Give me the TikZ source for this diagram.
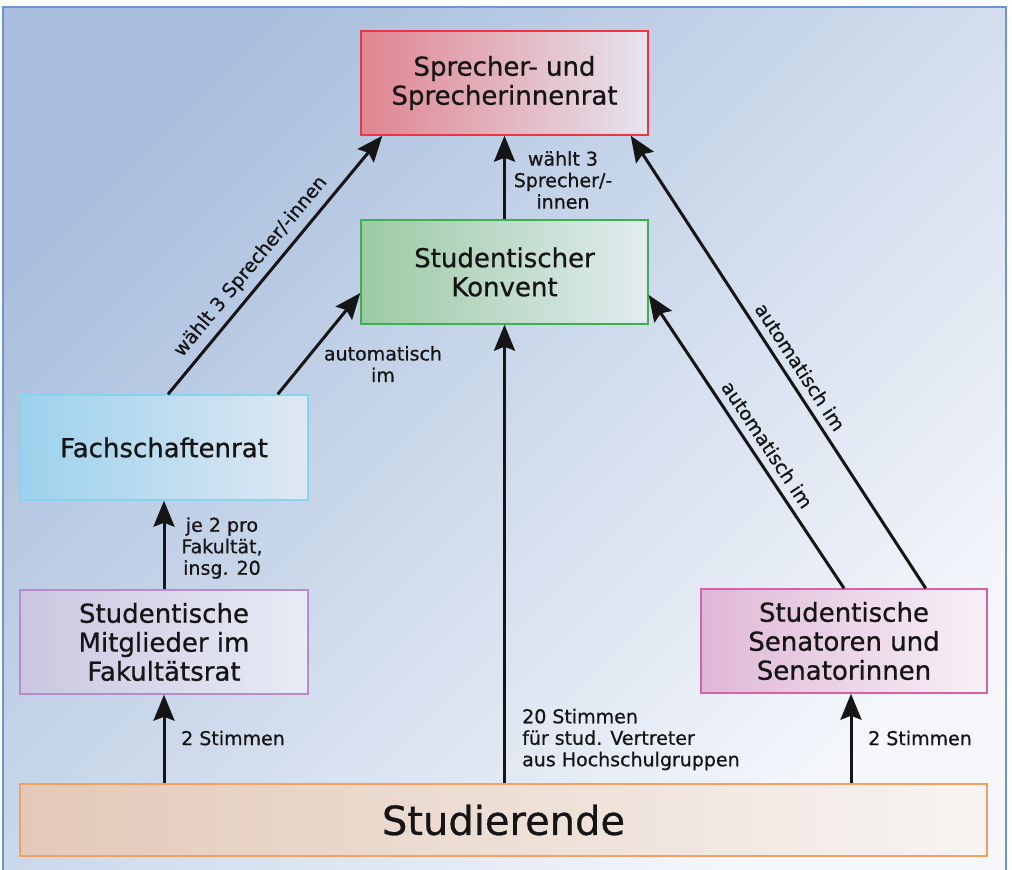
\documentclass[tikz,border=0pt]{standalone}
\usepackage{fontspec}
\setmainfont{DejaVu Sans}[FakeBold=0.7]
\usetikzlibrary{arrows.meta,calc}
\definecolor{bgA}{HTML}{A9BFDD}
\definecolor{bgB}{HTML}{F5F7FB}
\definecolor{bgline}{HTML}{6E92D2}
\definecolor{ink}{HTML}{151515}
\definecolor{sprD}{HTML}{EE3344}\definecolor{sprL}{HTML}{DF8590}\definecolor{sprR}{HTML}{E6E4EE}
\definecolor{konD}{HTML}{3CB04C}\definecolor{konL}{HTML}{9CCAA4}\definecolor{konR}{HTML}{E2ECF0}
\definecolor{fsrD}{HTML}{88D4F0}\definecolor{fsrL}{HTML}{9CD2EC}\definecolor{fsrR}{HTML}{DFE8F3}
\definecolor{mitD}{HTML}{B88AC8}\definecolor{mitL}{HTML}{CBC6E0}\definecolor{mitR}{HTML}{E8ECF6}
\definecolor{senD}{HTML}{D860A8}\definecolor{senL}{HTML}{DFB7D6}\definecolor{senR}{HTML}{F7F1F7}
\definecolor{stuD}{HTML}{F4A060}\definecolor{stuL}{HTML}{E3C9B8}\definecolor{stuR}{HTML}{F7F4F2}
\begin{document}
\begin{tikzpicture}[x=1pt,y=-1pt,
  box/.style n args={3}{draw=#1, left color=#2, right color=#3, line width=1.4pt,
    align=center, inner sep=0pt, text=ink, font=\fontsize{26}{29}\selectfont},
  arr/.style={draw=ink, line width=3pt, -{Stealth[length=26pt,width=21pt,inset=4pt]}},
  lab/.style={text=ink, inner sep=0pt, font=\fontsize{19}{21.5}\selectfont},
  slab/.style={text=ink, inner sep=0pt, font=\fontsize{19}{21.5}\selectfont, sloped, above=7pt}]
\useasboundingbox (0,0) rectangle (1012,870);
\draw[draw=bgline, line width=1.5pt, top color=bgA, bottom color=bgB, shading angle=45] (3,7) rectangle (1006,885);

\node[box={sprD}{sprL}{sprR}, minimum width=287pt, minimum height=104pt] (spr) at (504.5,83) {Sprecher- und\\Sprecherinnenrat};
\node[box={konD}{konL}{konR}, minimum width=287pt, minimum height=104pt] (kon) at (504.5,272) {Studentischer\\Konvent};
\node[box={fsrD}{fsrL}{fsrR}, minimum width=288pt, minimum height=105pt] (fsr) at (164,447.5) {Fachschaftenrat};
\node[box={mitD}{mitL}{mitR}, minimum width=288pt, minimum height=104pt] (mit) at (164,642) {Studentische\\Mitglieder im\\Fakultätsrat};
\node[box={senD}{senL}{senR}, minimum width=286pt, minimum height=104pt] (sen) at (844,641) {Studentische\\Senatoren und\\Senatorinnen};
\node[box={stuD}{stuL}{stuR}, minimum width=967pt, minimum height=72pt, font=\fontsize{40}{48}\selectfont] (stu) at (503.5,820) {Studierende};

\coordinate (s8) at ([xshift=7pt]sen.south);

\draw[arr] ([xshift=4pt]fsr.north) -- ([xshift=22pt]spr.south west)
  node[slab, pos=0.45] {wählt 3 Sprecher/-innen};
\draw[arr] ([xshift=-31pt]fsr.north east) -- ([yshift=-21pt]kon.west);
\draw[arr] (kon.north) -- (spr.south);
\draw[arr] (stu.north -| kon.south) -- (kon.south);
\draw[arr] (sen.north) -- ([yshift=-23pt]kon.east)
  node[slab, pos=0.46] {automatisch im};
\draw[arr] ([xshift=-62pt]sen.north east) -- ([xshift=-18pt]spr.south east)
  node[slab, pos=0.47] {automatisch im};
\draw[arr] (stu.north -| mit.south) -- (mit.south);
\draw[arr] (s8 |- stu.north) -- (s8);
\draw[arr] (mit.north) -- (fsr.south);

\node[lab, align=center] (l1) at (222,548) {je 2 pro\\Fakultät,\\insg. 20};
\node[lab, anchor=west] (l2) at (181,738) {2 Stimmen};
\node[lab, anchor=west, align=left] (l3) at (522,739.5) {20 Stimmen\\für stud. Vertreter\\aus Hochschulgruppen};
\node[lab, anchor=west] (l4) at (868,738) {2 Stimmen};
\node[lab, align=center] (l5) at (563,180) {wählt 3\\Sprecher/-\\innen};
\node[lab, align=center] (l6) at (383,364) {automatisch\\im};
\end{tikzpicture}
\end{document}
